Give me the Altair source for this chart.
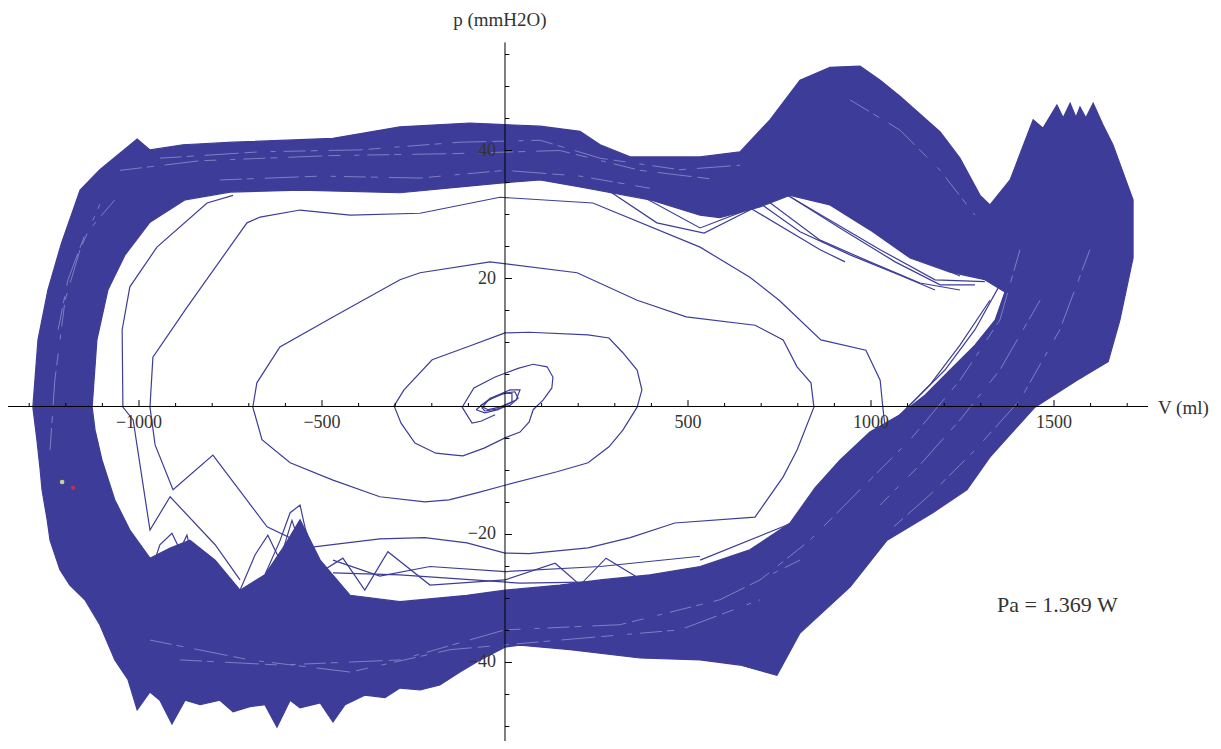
import altair as alt
import pandas as pd

BLUE = "#3d3d99"
STREAK = "#8686c8"
FONT = "Liberation Serif"

# ---- dense band of steady-state cycles: outer and inner edges (V ml, p mmH2O)
band_outer_v = [-1290, -1276, -1249, -1212, -1161, -1107, -1005, -970, -880, -743, -470, -287, -96, 96, 205,
                260, 342, 533, 642, 724, 806, 888, 970, 1025, 1079, 1189, 1243, 1298, 1325, 1380,
                1443, 1470, 1508, 1525, 1544, 1560, 1571, 1587, 1607, 1634, 1661,
                1716, 1716, 1680, 1648, 1563, 1448, 1325, 1262, 1169, 1044, 943, 806, 743, 642, 533, 369,
                178, 41, 0, -68, -123, -178, -232, -287, -328, -383, -437, -470, -505, -560, -587, -623,
                -656, -697, -743, -779, -833, -874, -910, -943, -970, -1005, -1030, -1066, -1107, -1148,
                -1189, -1216, -1243, -1251, -1265, -1270, -1279, -1290]
band_outer_p = [-0.1, 10.4, 18.2, 25.5, 33.8, 37.0, 41.8, 40.1, 40.9, 41.3, 41.9, 43.7, 44.3, 43.8, 43.0,
                40.9, 39.0, 39.0, 39.8, 44.8, 51.0, 53.0, 53.2, 51.0, 48.5, 42.9, 38.8, 33.0, 31.5, 35.4,
                44.8, 43.5, 47.1, 45.1, 47.4, 45.2, 46.8, 45.1, 47.4, 44.0, 40.9,
                32.3, 23.2, 13.5, 7.0, 4.1, -0.1, -7.9, -13.0, -16.6, -20.9, -28.2, -35.4, -42.0, -40.4,
                -39.6, -39.3, -38.0, -37.3, -37.6, -39.6, -41.5, -43.5, -44.3, -44.0, -45.5, -45.1, -46.6,
                -49.3, -46.3, -47.1, -45.9, -50.1, -46.6, -46.9, -47.7, -45.9, -46.6, -45.9, -49.6, -45.9,
                -44.6, -47.4, -42.7, -39.6, -34.1, -30.2, -27.9, -25.5, -20.9, -17.7, -13.0, -9.9, -5.2,
                -0.1]

band_inner_v = [-1128, -1115, -1085, -1038, -970, -874, -751, -560, -287, -14, 96, 205, 396, 533, 587, 697,
                779, 888, 997, 1107, 1216, 1311, 1366, 1339, 1284, 1216, 1148, 1079, 997, 915, 847, 779, 669,
                533, 396, 260, 150, 0, -104, -287, -423, -505, -560, -601, -656, -724, -792, -861, -915,
                -970, -1025, -1066, -1101, -1120, -1128]
band_inner_p = [-0.1, 10.4, 18.2, 23.7, 28.8, 32.3, 33.5, 33.8, 33.4, 34.9, 35.4, 34.3, 32.3, 29.9, 29.5,
                31.2, 33.0, 31.5, 27.6, 23.2, 21.0, 19.8, 17.9, 13.5, 9.6, 5.7, 1.8, -1.3, -4.0, -8.4, -12.7,
                -18.2, -22.4, -25.0, -26.3, -27.1, -27.9, -28.7, -29.5, -30.5, -29.5, -24.0, -17.7, -21.6,
                -26.3, -28.7, -24.0, -20.9, -22.1, -23.7, -19.3, -14.6, -8.4, -3.7, -0.1]

# ---- first cycles near the origin
t1_v = [-63, -41, 0, 27, 36, 14, -22, -55, -63]
t1_p = [-0.2, 1.3, 2.1, 2.3, 1.3, 0.2, -0.4, -0.7, -0.2]
t2_v = [-68, -27, 14, 41, 30, -14, -46, -68]
t2_p = [0.1, 1.6, 2.6, 2.6, 1.0, -0.1, -0.5, 0.1]
t3_v = [-79, -46, -5, 19, 19, -19, -55, -79]
t3_p = [-0.5, 1.0, 2.0, 2.1, 0.7, -0.5, -1.0, -0.5]

# ---- the spiral of growing cycles, run as one trajectory
spiral_v = [-27, -66, -90, -104, -117, -85, -27, 38, 77, 115, 131, 128, 104, 77, 66, 41, 0, -57, -115, -137,
            -189, -246, -284, -303, -276, -199, -104, 0, 66, 227, 284, 322, 361, 374, 361, 322, 284, 227, 142,
            0, -77, -153, -219, -342, -470, -587, -664, -689, -678, -615, -470, -287, -232, -41, 197, 361,
            495, 683, 760, 798, 836, 844, 798, 760, 683, 464, 342, 227, 66, 0, -104, -219, -342, -533, -650,
            -798, -907, -956, -970, -962, -869, -705, -669, -560, -423, -232, -14, 240, 533, 669, 749, 863,
            986, 1025, 1033, 1038, 1066]
spiral_p = [-1.3, -2.3, -2.6, -1.3, -0.1, 2.9, 4.6, 6.0, 6.6, 6.2, 4.6, 2.9, 1.0, -0.5, -2.4, -4.0, -4.9,
            -6.5, -7.7, -7.6, -7.3, -5.7, -2.6, 0.1, 2.6, 7.3, 9.3, 11.5, 11.6, 11.2, 10.7, 8.4, 5.7, 2.6,
            -0.1, -3.7, -6.3, -8.8, -10.2, -12.3, -13.5, -14.6, -14.9, -14.1, -11.5, -8.8, -5.2, -0.1, 3.7,
            9.3, 14.0, 19.8, 20.9, 22.6, 20.9, 16.6, 14.0, 12.7, 10.4, 6.2, 3.7, -0.1, -6.8, -11.0, -17.3,
            -18.2, -20.5, -22.1, -23.0, -22.9, -21.3, -20.5, -20.7, -22.0, -18.8, -7.6, -13.0, -6.0, -0.1,
            7.7, 15.5, 28.7, 29.6, 30.7, 29.9, 30.2, 32.7, 31.8, 24.9, 20.2, 16.6, 10.4, 8.8, 4.1, -0.5,
            -2.9, -5.2]

# ---- loose strands beside the band
c3_v = [-743, -814, -951, -1025, -1046, -1044, -1016, -970, -915, -792, -724]
c3_p = [33.0, 31.8, 24.9, 18.7, 12.0, -0.1, -2.1, -19.3, -14.1, -21.6, -27.1]
s1_v = [-470, -287, 41, 260]
s1_p = [-26.0, -26.3, -27.6, -27.4]
s2_v = [-560, -443, -383, -320, -205, 0]
s2_p = [-27.9, -23.7, -28.7, -22.7, -27.9, -27.1]
s3_v = [0, 137, 205, 276, 396, 533, 697]
s3_p = [-27.1, -24.5, -27.9, -23.7, -27.9, -25.2, -26.3]
s4_v = [-470, -342, -205, 0, 260, 533]
s4_p = [-24.0, -26.5, -25.0, -25.8, -25.0, -23.4]
q1_v = [533, 806, 943, 1025]
q1_p = [-24.0, -17.7, -9.9, -3.7]
h1_v = [724, 888, 1025, 1175, 1311]
h1_p = [34.6, 29.1, 24.5, 19.8, 19.5]
h2_v = [697, 861, 997, 1134, 1243]
h2_p = [33.0, 26.0, 22.6, 19.3, 18.2]
h3_v = [779, 943, 1093, 1216]
h3_p = [36.2, 29.9, 24.5, 21.3]
h4_v = [656, 861, 929]
h4_p = [31.5, 24.5, 22.6]
h5_v = [751, 915, 1066, 1189, 1284]
h5_p = [33.8, 27.9, 22.6, 19.0, 19.0]
h6_v = [806, 970, 1120, 1243]
h6_p = [34.6, 28.8, 23.5, 20.4]
h7_v = [683, 806, 943, 1079, 1175]
h7_p = [32.3, 27.3, 23.7, 20.5, 18.2]
h8_v = [833, 997, 1148, 1257]
h8_p = [35.7, 30.4, 25.2, 22.1]
v1_v = [260, 415, 544, 669, 779]
v1_p = [34.6, 28.7, 27.1, 30.7, 33.5]
v2_v = [369, 533, 697]
v2_p = [33.0, 27.9, 31.5]
r1_v = [1352, 1284, 1202, 1120, 1052]
r1_p = [19.0, 12.0, 5.7, 1.0, -2.9]
r2_v = [1325, 1243, 1161, 1079, 1011]
r2_p = [16.6, 9.6, 3.4, -1.3, -5.2]
k1_v = [-656, -615, -587, -560, -546, -519]
k1_p = [-26.3, -21.0, -16.6, -15.4, -19.0, -23.7]
k2_v = [-724, -683, -648, -615, -582, -560]
k2_p = [-28.7, -23.2, -20.1, -24.0, -17.8, -21.6]
k3_v = [-970, -943, -910, -888, -869, -847]
k3_p = [-26.3, -21.6, -19.8, -22.4, -20.1, -25.5]

# ---- lighter streaks inside the band
w1_v = [-943, -669, -396, -123, 96, 260, 478, 642]
w1_p = [38.8, 39.8, 40.1, 41.3, 41.6, 38.8, 37.0, 37.7]
w2_v = [-779, -505, -232, 0, 205, 396]
w2_p = [35.4, 36.0, 35.7, 36.9, 36.0, 34.1]
w3_v = [-1221, -1194, -1148, -1066]
w3_p = [12.0, 19.8, 26.8, 32.3]
w4_v = [1462, 1352, 1243, 1134, 1025]
w4_p = [16.6, 5.7, -2.1, -9.1, -15.4]
w5_v = [1598, 1516, 1407, 1284, 1161, 1052]
w5_p = [24.5, 12.0, 1.0, -6.8, -13.8, -19.3]
w6_v = [-888, -615, -287, 0, 314, 587, 806]
w6_p = [-39.6, -40.4, -39.6, -34.9, -34.1, -30.2, -24.0]
w7_v = [943, 1079, 1189, 1284]
w7_p = [47.9, 43.2, 36.9, 29.9]
w8_v = [-1052, -833, -478, -150, 150, 369, 587]
w8_p = [36.9, 38.4, 39.2, 39.5, 40.0, 36.9, 35.4]
w9_v = [1407, 1352, 1243, 1107, 970, 833, 697]
w9_p = [24.5, 13.5, 4.1, -5.2, -13.0, -20.9, -27.1]
w10_v = [-970, -697, -423, -150, 150, 478, 697]
w10_p = [-36.5, -39.6, -41.5, -38.0, -36.5, -34.9, -30.2]
w11_v = [-1243, -1230, -1202, -1161, -1107]
w11_p = [-6.8, 4.1, 16.6, 24.5, 31.6]

# start / end markers
mark_v = [-1210, -1180]
mark_p = [-11.8, -12.7]
mark_c = ["#c9d38f", "#b8305c"]

# ---- axes
x_axis_v = [-1358, 1757]
y_axis_p = [-53.0, 56.9]
x_minor = [-1300, -1200, -1100, -900, -800, -700, -600, -400, -300, -200, -100, 100, 200, 300, 400, 600,
           700, 800, 900, 1100, 1200, 1300, 1400, 1600, 1700]
x_major = [-1000, -500, 500, 1000, 1500]
x_label_text = ["\u22121000", "\u2212500", "500", "1000", "1500"]
y_minor = [-50, -45, -35, -30, -25, -15, -10, -5, 5, 10, 15, 25, 30, 35, 45, 50, 55]
y_major = [-40, -20, 20, 40]
y_label_text = ["\u221240", "\u221220", "20", "40"]

XMIN, XMAX = -1357.9, 1934.4
YMIN, YMAX = -52.27, 62.27
xs = alt.Scale(domain=[XMIN, XMAX], nice=False, zero=False)
ys = alt.Scale(domain=[YMIN, YMAX], nice=False, zero=False)


def path(name, vs, ps):
    return pd.DataFrame({"V": vs, "p": ps, "id": name, "i": list(range(len(vs)))})


X = alt.X("V:Q", scale=xs, axis=None)
Y = alt.Y("p:Q", scale=ys, axis=None)

outer = alt.Chart(path("outer", band_outer_v, band_outer_p)).mark_line(
    fill=BLUE, stroke=BLUE, strokeWidth=1.2, fillOpacity=1).encode(x=X, y=Y, order="i:Q")
inner = alt.Chart(path("inner", band_inner_v, band_inner_p)).mark_line(
    fill="white", stroke=BLUE, strokeWidth=1.2, fillOpacity=1).encode(x=X, y=Y, order="i:Q")

streaks = pd.concat([
    path("w1", w1_v, w1_p), path("w2", w2_v, w2_p), path("w3", w3_v, w3_p), path("w4", w4_v, w4_p),
    path("w5", w5_v, w5_p), path("w6", w6_v, w6_p), path("w7", w7_v, w7_p), path("w8", w8_v, w8_p),
    path("w9", w9_v, w9_p), path("w10", w10_v, w10_p), path("w11", w11_v, w11_p),
])
streak_lines = alt.Chart(streaks).mark_line(
    color=STREAK, strokeWidth=0.9, strokeDash=[22, 5, 7, 11, 34, 6, 12, 14, 5, 8]).encode(
    x=X, y=Y, order="i:Q", detail="id:N")

loops = pd.concat([
    path("t1", t1_v, t1_p), path("t2", t2_v, t2_p), path("t3", t3_v, t3_p),
    path("spiral", spiral_v, spiral_p), path("c3", c3_v, c3_p),
    path("s1", s1_v, s1_p), path("s2", s2_v, s2_p), path("s3", s3_v, s3_p), path("s4", s4_v, s4_p),
    path("q1", q1_v, q1_p),
    path("h1", h1_v, h1_p), path("h2", h2_v, h2_p), path("h3", h3_v, h3_p), path("h4", h4_v, h4_p),
    path("h5", h5_v, h5_p), path("h6", h6_v, h6_p), path("h7", h7_v, h7_p), path("h8", h8_v, h8_p),
    path("v1", v1_v, v1_p), path("v2", v2_v, v2_p), path("r1", r1_v, r1_p), path("r2", r2_v, r2_p),
    path("k1", k1_v, k1_p), path("k2", k2_v, k2_p), path("k3", k3_v, k3_p),
])
loop_lines = alt.Chart(loops).mark_line(color=BLUE, strokeWidth=1.2).encode(
    x=X, y=Y, order="i:Q", detail="id:N")

markers = alt.Chart(pd.DataFrame({"V": mark_v, "p": mark_p, "c": mark_c})).mark_point(
    filled=True, size=22, opacity=1).encode(x=X, y=Y, color=alt.Color("c:N", scale=None))

axis_df = pd.DataFrame({"V": [x_axis_v[0], 0], "V2": [x_axis_v[1], 0],
                        "p": [0, y_axis_p[0]], "p2": [0, y_axis_p[1]]})
axes = alt.Chart(axis_df).mark_rule(color="black", strokeWidth=1).encode(
    x=X, x2="V2:Q", y=Y, y2="p2:Q")

xt = pd.DataFrame({"V": x_minor + x_major,
                   "p": [0.0] * (len(x_minor) + len(x_major)),
                   "p2": [0.55] * len(x_minor) + [1.0] * len(x_major)})
x_ticks = alt.Chart(xt).mark_rule(color="black", strokeWidth=1).encode(x=X, y=Y, y2="p2:Q")

yt = pd.DataFrame({"p": y_minor + y_major,
                   "V": [0.0] * (len(y_minor) + len(y_major)),
                   "V2": [12.0] * len(y_minor) + [19.0] * len(y_major)})
y_ticks = alt.Chart(yt).mark_rule(color="black", strokeWidth=1).encode(x=X, x2="V2:Q", y=Y)

x_lab = alt.Chart(pd.DataFrame({"V": x_major, "p": [0] * len(x_major), "t": x_label_text})).mark_text(
    font=FONT, fontSize=18, color="#333333", baseline="middle", align="center", dy=17).encode(
    x=X, y=Y, text="t:N")
y_lab = alt.Chart(pd.DataFrame({"V": [0] * len(y_major), "p": y_major, "t": y_label_text})).mark_text(
    font=FONT, fontSize=18, color="#333333", baseline="middle", align="right", dx=-9).encode(
    x=X, y=Y, text="t:N")

title_p = alt.Chart(pd.DataFrame({"V": [-14], "p": [60.4], "t": ["p (mmH2O)"]})).mark_text(
    font=FONT, fontSize=19, color="#333333", baseline="middle", align="center").encode(x=X, y=Y, text="t:N")
title_v = alt.Chart(pd.DataFrame({"V": [1784], "p": [-0.2], "t": ["V (ml)"]})).mark_text(
    font=FONT, fontSize=19, color="#333333", baseline="middle", align="left").encode(x=X, y=Y, text="t:N")
power = alt.Chart(pd.DataFrame({"V": [1344], "p": [-31.0], "t": ["Pa = 1.369 W"]})).mark_text(
    font=FONT, fontSize=22, color="#333333", baseline="middle", align="left").encode(x=X, y=Y, text="t:N")

chart = alt.layer(outer, inner, streak_lines, loop_lines, markers, axes, x_ticks, y_ticks, x_lab, y_lab,
                  title_p, title_v, power).properties(
    width=1205, height=733, padding=0, autosize=alt.AutoSizeParams(type="none"),
    background="white").configure_view(stroke=None)

chart.save("out.html", embed_options={"renderer": "svg", "actions": False})
